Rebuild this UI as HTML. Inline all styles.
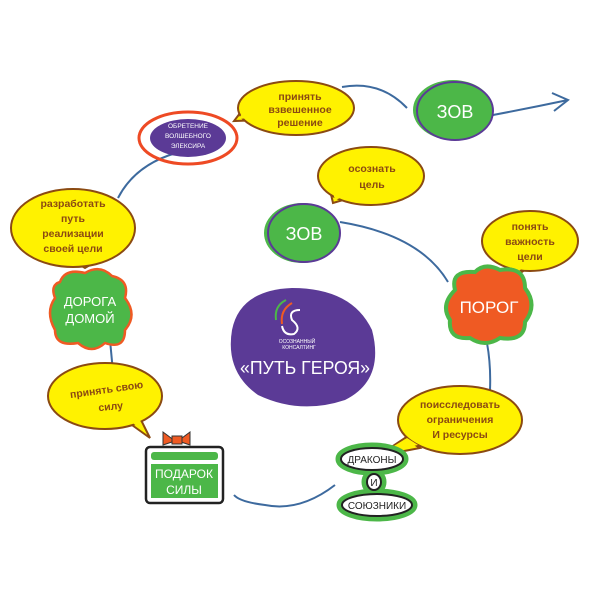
<!DOCTYPE html>
<html><head><meta charset="utf-8"><style>
html,body{margin:0;padding:0;background:#fff}
svg{display:block}
text{font-family:"Liberation Sans","DejaVu Sans",sans-serif}
.c{fill:#fff200;stroke:#8b4a12;stroke-width:2}
.cf{fill:#fff200;stroke:none}
.ct{fill:#8b4a12;font-weight:bold;font-size:10.5px;text-anchor:middle}
.ln{fill:none;stroke:#3d6a9e;stroke-width:2}
.w{fill:#fff;text-anchor:middle}
</style></head><body>
<svg width="600" height="600" viewBox="0 0 600 600">
<!-- connectors -->
<path class="ln" d="M342 87 Q380 80 407 108"/>
<path class="ln" d="M493 115 Q530 108 568 100"/>
<path class="ln" d="M552 93 L568 100 L554 111"/>
<path class="ln" d="M340 222 Q420 235 448 282"/>
<path class="ln" d="M487 343 Q491 365 490 390"/>
<path class="ln" d="M335 485 Q300 512 265 505 Q240 502 234 495"/>
<path class="ln" d="M110 340 L113 372"/>
<path class="ln" d="M118 198 Q135 165 176 153"/>

<!-- callout: принять взвешенное решение -->
<polygon class="c" points="250,100 234,121 262,120"/>
<ellipse class="c" cx="296" cy="108" rx="58" ry="27"/>
<polygon class="cf" points="252,102 238,119 262,117"/>
<text class="ct" x="300" y="100">принять</text>
<text class="ct" x="300" y="113">взвешенное</text>
<text class="ct" x="300" y="126">решение</text>

<!-- elixir -->
<ellipse cx="188" cy="138" rx="49" ry="26" fill="none" stroke="#ee4a24" stroke-width="3"/>
<ellipse cx="188" cy="138" rx="38" ry="19" fill="#5b3a96"/>
<text class="w" x="188" y="128" font-size="6.5">ОБРЕТЕНИЕ</text>
<text class="w" x="188" y="138" font-size="6.5">ВОЛШЕБНОГО</text>
<text class="w" x="188" y="148" font-size="6.5">ЭЛЕКСИРА</text>

<!-- ЗОВ top -->
<ellipse cx="453" cy="110" rx="40" ry="30" fill="#4cb748"/>
<ellipse cx="455" cy="111" rx="38" ry="29" fill="none" stroke="#5b3a96" stroke-width="2"/>
<text class="w" x="455" y="118" font-size="18">ЗОВ</text>

<!-- осознать цель -->
<polygon class="c" points="330,190 333,203 350,198"/>
<ellipse class="c" cx="371" cy="176" rx="53" ry="29"/>
<polygon class="cf" points="332,189 335,200 348,195"/>
<text class="ct" x="372" y="172">осознать</text>
<text class="ct" x="372" y="188">цель</text>

<!-- ЗОВ middle -->
<ellipse cx="302" cy="233" rx="38" ry="30" fill="#4cb748"/>
<ellipse cx="304" cy="233" rx="36" ry="29" fill="none" stroke="#5b3a96" stroke-width="2"/>
<text class="w" x="304" y="240" font-size="18">ЗОВ</text>

<!-- понять важность цели -->
<polygon class="c" points="510,262 515,277 530,266"/>
<ellipse class="c" cx="530" cy="241" rx="48" ry="30"/>
<polygon class="cf" points="512,262 516,273 527,265"/>
<text class="ct" x="530" y="230">понять</text>
<text class="ct" x="530" y="245">важность</text>
<text class="ct" x="530" y="260">цели</text>

<!-- ПОРОГ cloud -->
<path d="M455 290 Q450 270 475 272 Q485 262 500 270 Q525 266 525 288 Q538 305 525 322 Q525 342 500 338 Q485 348 470 338 Q448 340 450 320 Q440 305 455 290 Z" fill="#ef5a23" stroke="#4cb748" stroke-width="4"/>
<text class="w" x="489" y="313" font-size="17">ПОРОГ</text>

<!-- поисследовать -->
<polygon class="c" points="405,438 378,456 420,448"/>
<ellipse class="c" cx="460" cy="420" rx="62" ry="34"/>
<polygon class="cf" points="407,438 384,452 418,445"/>
<text class="ct" x="460" y="408">поисследовать</text>
<text class="ct" x="460" y="423">ограничения</text>
<text class="ct" x="460" y="438">И ресурсы</text>

<!-- драконы и союзники -->
<g stroke="#4cb748" stroke-width="7" fill="#4cb748">
<ellipse cx="372" cy="459" rx="33" ry="13"/>
<ellipse cx="374" cy="482" rx="9" ry="10"/>
<ellipse cx="377" cy="505" rx="37" ry="13"/>
</g>
<g stroke="#222" stroke-width="2" fill="#fff">
<ellipse cx="372" cy="459" rx="31" ry="11"/>
<ellipse cx="374" cy="482" rx="7" ry="8"/>
<ellipse cx="377" cy="505" rx="35" ry="11"/>
</g>
<text x="372" y="463" font-size="10" text-anchor="middle" fill="#222">ДРАКОНЫ</text>
<text x="374" y="486" font-size="10" text-anchor="middle" fill="#222">И</text>
<text x="377" y="509" font-size="10" text-anchor="middle" fill="#222">СОЮЗНИКИ</text>

<!-- подарок силы -->
<path d="M163 432 L175 441 L163 445 Z M190 432 L178 441 L190 445 Z" fill="#ef5a23" stroke="#333" stroke-width="1"/>
<rect x="172" y="436" width="10" height="8" fill="#ef5a23" stroke="#333"/>
<rect x="146" y="447" width="77" height="56" rx="4" fill="#fff" stroke="#222" stroke-width="2.5"/>
<rect x="151" y="452" width="67" height="8" rx="3" fill="#4cb748"/>
<rect x="151" y="464" width="67" height="34" fill="#4cb748"/>
<text class="w" x="184" y="478" font-size="12">ПОДАРОК</text>
<text class="w" x="184" y="494" font-size="12">СИЛЫ</text>

<!-- принять свою силу -->
<polygon class="c" points="125,420 150,438 140,418"/>
<ellipse class="c" cx="105" cy="396" rx="57" ry="33"/>
<polygon class="cf" points="126,418 146,433 138,416"/>
<text class="ct" x="107" y="393" transform="rotate(-8 107 393)">принять свою</text>
<text class="ct" x="111" y="410" transform="rotate(-6 111 410)">силу</text>

<!-- дорога домой -->
<path d="M60 282 Q65 268 85 273 Q100 264 112 276 Q130 280 125 298 Q138 315 125 330 Q125 350 105 343 Q92 355 78 343 Q55 347 55 330 Q45 312 55 298 Q50 285 60 282 Z" fill="#4cb748" stroke="#ef5a23" stroke-width="2.5"/>
<text class="w" x="90" y="306" font-size="13">ДОРОГА</text>
<text class="w" x="90" y="323" font-size="13">ДОМОЙ</text>

<!-- разработать -->
<polygon class="c" points="75,262 85,268 95,262"/>
<ellipse class="c" cx="73" cy="228" rx="62" ry="39"/>
<polygon class="cf" points="77,260 85,265 93,260"/>
<text class="ct" x="73" y="207">разработать</text>
<text class="ct" x="73" y="222">путь</text>
<text class="ct" x="73" y="237">реализации</text>
<text class="ct" x="73" y="252">своей цели</text>

<!-- center -->
<path d="M232 330 Q240 290 292 288 Q352 288 372 330 Q385 380 345 400 Q300 415 258 395 Q225 372 232 330 Z" fill="#5b3a96"/>
<path d="M282 324 Q280 310 292 303" stroke="#ef5a23" stroke-width="2" fill="none"/>
<path d="M276 320 Q274 306 286 300" stroke="#4cb748" stroke-width="2" fill="none"/>
<path d="M300 310 Q288 310 292 320 Q302 328 294 334 Q284 336 282 326" stroke="#fff" stroke-width="2" fill="none"/>
<text class="w" x="297" y="343" font-size="5">ОСОЗНАННЫЙ</text>
<text class="w" x="299" y="349" font-size="5">КОНСАЛТИНГ</text>
<text class="w" x="305" y="374" font-size="18" textLength="130" lengthAdjust="spacingAndGlyphs">«ПУТЬ ГЕРОЯ»</text>
</svg>
</body></html>
